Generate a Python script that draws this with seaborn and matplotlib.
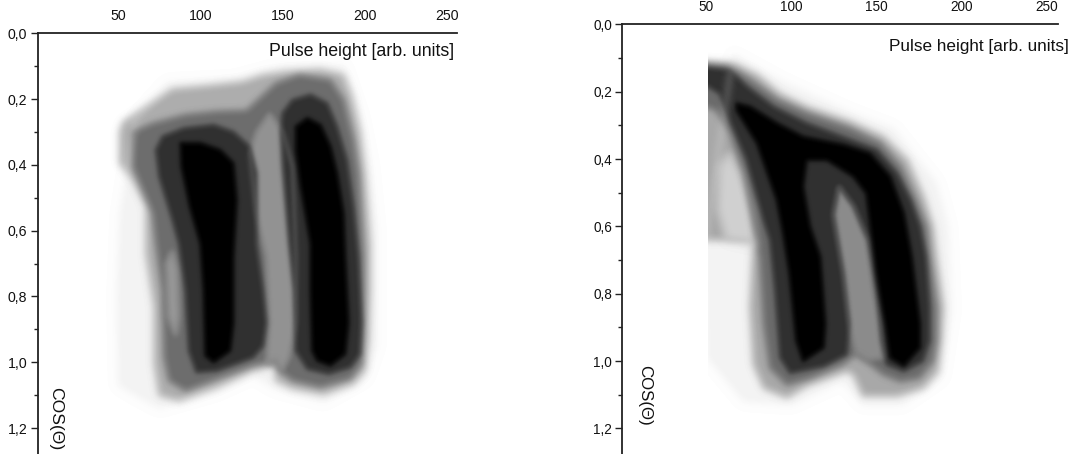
import numpy as np
import matplotlib
matplotlib.use("Agg")
import matplotlib.pyplot as plt
import seaborn as sns
from matplotlib.ticker import FixedLocator

sns.set_theme(style="ticks")
plt.rcParams['font.family'] = ['Liberation Sans', 'DejaVu Sans']

x_ticks = [50, 100, 150, 200, 250]
x_minor = [25, 75, 125, 175, 225]
y_ticks = [0.0, 0.2, 0.4, 0.6, 0.8, 1.0, 1.2]
y_minor = [0.1, 0.3, 0.5, 0.7, 0.9, 1.1]
y_labels = ["0,0", "0,2", "0,4", "0,6", "0,8", "1,0", "1,2"]
x_title = "Pulse height [arb. units]"
y_title = "COS(\u0398)"

# LEFT PANEL: iso-density outlines (pulse height, cos theta)
A_halo_x = [51, 49, 50, 60, 75, 110, 132, 145, 175, 200, 207, 207, 203, 197, 187, 150, 120, 80, 60]
A_halo_y = [0.55, 0.80, 1.07, 1.10, 1.14, 1.09, 1.04, 1.08, 1.12, 1.05, 0.95, 0.60, 0.40, 0.25, 0.10, 0.10, 0.14, 0.15, 0.26]

A1_x = [51, 53, 65, 83, 104, 126, 138, 152, 173, 187, 192, 197, 200, 203, 203, 202, 200, 193, 175, 156, 146, 145, 132, 110, 87, 75, 72, 72, 67, 67, 59, 51]
A1_y = [.30, .27, .23, .17, .16, .147, .127, .117, .11, .127, .19, .30, .43, .64, .78, .93, 1.025, 1.066, 1.097, 1.08, 1.056, 1.01, 1.025, 1.076, 1.117, 1.10, 1.005, .833, .67, .527, .446, .395]

A2_x = [59, 71, 91, 110, 128, 146, 160, 179, 187, 193, 196, 199, 199, 198, 191, 173, 156, 148, 146, 132, 110, 91, 81, 78, 77, 73, 71, 59]
A2_y = [.30, .274, .248, .238, .235, .152, .127, .142, .203, .324, .425, .68, .88, 1.005, 1.05, 1.075, 1.055, 1.025, .995, 1.01, 1.05, 1.086, 1.056, .985, .783, .64, .547, .405]

Agap_x = [134, 142, 150, 156, 158, 158, 154, 150, 145, 140, 142, 140, 134, 130]
Agap_y = [.30, .243, .30, .405, .68, .88, .985, 1.025, 1.01, 1.005, .88, .68, .547, .365]

Aflank_x = [79, 83, 86, 87, 85, 80]
Aflank_y = [.70, .66, .72, .86, .92, .86]

A3a_x = [73, 77, 90, 108, 120, 130, 134, 134, 134, 138, 140, 138, 132, 110, 97.6, 93, 91, 87, 83, 75]
A3a_y = [.355, .314, .289, .279, .30, .345, .425, .547, .64, .783, .88, .95, .985, 1.025, 1.03, .965, .783, .64, .567, .436]
A3b_x = [150, 156, 167, 177, 183, 189, 193, 196, 198, 197, 191, 178, 165, 158, 157, 154, 150, 149]
A3b_y = [.243, .203, .187, .213, .284, .385, .527, .68, .88, .975, 1.015, 1.035, 1.02, .965, .783, .64, .405, .30]

A4a_x = [88, 100, 112, 120, 122, 120, 120, 118, 108, 103, 102, 100, 93.6, 88.5]
A4a_y = [.334, .334, .355, .395, .507, .68, .88, .965, 1.0, .98, .783, .64, .527, .405]
A4b_x = [158, 165, 173, 179, 183, 187, 188, 190, 188, 179, 171, 168, 167, 167, 161, 158]
A4b_y = [.284, .258, .279, .344, .425, .547, .68, .88, .975, 1.01, .995, .965, .783, .64, .466, .355]

# RIGHT PANEL
B_halo_x = [50.7, 49.5, 50.7, 72, 100, 130, 142, 165, 188, 194, 192, 185, 160, 134, 95, 66]
B_halo_y = [0.60, 0.69, 0.99, 1.12, 1.13, 1.06, 1.13, 1.13, 1.05, 0.85, 0.60, 0.47, 0.31, 0.26, 0.17, 0.09]

B1_x = [45, 66, 80, 93, 109, 134.5, 154, 168, 177.5, 183, 185, 189, 188, 186, 177.5, 162, 142, 136.5, 132.5, 109, 97.5, 84, 78, 76, 78, 60, 45]
B1_y = [.11, .116, .15, .205, .245, .289, .334, .403, .512, .60, .69, .84, .94, 1.03, 1.08, 1.103, 1.103, 1.04, 1.03, 1.073, 1.108, 1.08, 1.01, .84, .64, .64, .64]

Blobe_x = [58, 64, 70, 78, 80, 62, 57]
Blobe_y = [.42, .38, .44, .55, .66, .64, .55]

B2_x = [45, 64, 76, 92, 109, 134.5, 152, 164, 173, 179, 181, 185, 185, 183, 175, 164, 154, 144, 138, 130, 111, 97.5, 87.6, 84, 81.8, 78, 72, 64, 56, 45]
B2_y = [.116, .126, .165, .225, .264, .309, .353, .423, .522, .60, .69, .84, .94, 1.0, 1.05, 1.06, 1.04, 1.0, .98, 1.01, 1.05, 1.07, 1.02, .89, .69, .60, .44, .32, .255, .235]

Bgap_x = [128, 136.5, 141.5, 145, 148, 152.6, 154, 144, 138, 134, 130.6, 126.7, 124.8]
Bgap_y = [.482, .54, .60, .642, .79, .89, .99, 1.0, .98, .89, .74, .623, .565]

B3_x = [45, 64, 74, 89.6, 109, 130, 150, 162, 170, 175.5, 179, 181, 181, 177, 166, 156, 153, 150, 145, 141.5, 136.5, 128, 124.8, 126.7, 130.6, 134, 132.5, 119, 99.4, 93.6, 90.6, 87.6, 83.7, 74, 64, 58, 45]
B3_y = [.126, .136, .185, .245, .294, .334, .373, .443, .522, .60, .69, .84, .94, 1.0, 1.03, 1.01, .94, .79, .64, .60, .54, .482, .565, .623, .74, .89, .98, 1.015, 1.035, .99, .79, .64, .58, .403, .284, .205, .165]

B4_x = [68, 76, 91.6, 107, 130.6, 146, 158, 166, 170.6, 175.5, 175.5, 166, 158, 155, 150, 144, 136.5, 121, 109, 107, 111, 117, 120, 119, 107, 103, 99, 95.4, 91.6, 80, 68]
B4_y = [.235, .245, .294, .334, .358, .383, .452, .561, .69, .89, .96, 1.015, .99, .89, .74, .502, .452, .403, .403, .482, .60, .69, .89, .96, 1.0, .94, .74, .623, .522, .353, .255]


class SoftEdge:
    """agg filter: gaussian blur of the alpha channel of a one-colour artist."""
    def __init__(self, grey, sigma):
        self.grey, self.sigma = grey, sigma

    def __call__(self, im, dpi):
        pad = int(3 * self.sigma) + 1
        out = np.zeros((im.shape[0] + 2 * pad, im.shape[1] + 2 * pad, 4))
        a = np.pad(im[:, :, 3], pad)
        t = np.arange(-pad, pad + 1)
        k = np.exp(-0.5 * (t / self.sigma) ** 2)
        k /= k.sum()
        a = np.apply_along_axis(lambda v: np.convolve(v, k, "same"), 0, a)
        a = np.apply_along_axis(lambda v: np.convolve(v, k, "same"), 1, a)
        out[:, :, :3] = self.grey
        out[:, :, 3] = a
        return out, -pad, -pad


def band(ax, xs, ys, grey, sigma):
    px, py = list(xs) + [xs[0]], list(ys) + [ys[0]]
    c = str(grey)
    flt = SoftEdge(grey, sigma)
    for f in ax.fill(px, py, color=c, lw=0):
        f.set_agg_filter(flt)
    n0 = len(ax.lines)
    sns.lineplot(x=px, y=py, sort=False, estimator=None, errorbar=None, color=c,
                 lw=1, ax=ax, legend=False)
    for ln in ax.lines[n0:]:
        ln.set_agg_filter(flt)


def frame(ax, xmax, ymax, tick_size):
    ax.set_xlim(1, xmax)
    ax.set_ylim(ymax, 0)
    ax.xaxis.tick_top()
    ax.xaxis.set_major_locator(FixedLocator(x_ticks))
    ax.xaxis.set_minor_locator(FixedLocator(x_minor))
    ax.yaxis.set_major_locator(FixedLocator(y_ticks))
    ax.yaxis.set_minor_locator(FixedLocator(y_minor))
    ax.set_yticklabels(y_labels)
    ax.tick_params(which="major", length=5, width=1, color="#222222", labelsize=tick_size,
                   pad=2.5, labelcolor="#111111")
    ax.tick_params(which="minor", length=3, width=1, color="#222222")
    ax.set_xlabel("")
    ax.set_ylabel("")
    sns.despine(ax=ax, top=False, left=False, right=True, bottom=True)
    for s in ("top", "left"):
        ax.spines[s].set_linewidth(1.3)
        ax.spines[s].set_color("#222222")
        ax.spines[s].set_zorder(6)


W, H = 1075, 454
fig = plt.figure(figsize=(W / 100, H / 100), dpi=100, facecolor="white")
axL = fig.add_axes([37.7 / W, 0, (457 - 37.7) / W, 1 - 33.3 / H])
axR = fig.add_axes([622.3 / W, 0, (1057.7 - 622.3) / W, 1 - 24.3 / H])

# left
band(axL, A_halo_x, A_halo_y, 0.955, 4)
band(axL, A1_x, A1_y, 0.68, 3.5)
band(axL, A2_x, A2_y, 0.43, 3.0)
band(axL, Agap_x, Agap_y, 0.58, 2.5)
band(axL, Aflank_x, Aflank_y, 0.60, 3)
band(axL, A3a_x, A3a_y, 0.19, 2.2)
band(axL, A3b_x, A3b_y, 0.19, 2.2)
band(axL, A4a_x, A4a_y, 0.0, 2.0)
band(axL, A4b_x, A4b_y, 0.0, 2.0)
frame(axL, 256, 1.279, 10.2)

# right
band(axR, B_halo_x, B_halo_y, 0.955, 4)
band(axR, B1_x, B1_y, 0.66, 3.5)
band(axR, Blobe_x, Blobe_y, 0.82, 4)
band(axR, B2_x, B2_y, 0.42, 3.0)
band(axR, Bgap_x, Bgap_y, 0.55, 2.5)
band(axR, B3_x, B3_y, 0.19, 2.2)
band(axR, B4_x, B4_y, 0.0, 2.0)
axR.axvspan(1.5, 51, color="white", lw=0, zorder=5)
frame(axR, 256.2, 1.276, 9.8)

fig.text(454 / W, 1 - 52 / H, x_title, ha="right", va="center", fontsize=12.8, color="#111111")
fig.text(1069 / W, 1 - 46 / H, x_title, ha="right", va="center", fontsize=12.3, color="#111111")
fig.text(56 / W, 1 - 419 / H, y_title, rotation=270, ha="center", va="center", fontsize=12.6, color="#111111")
fig.text(645 / W, 1 - 395 / H, y_title, rotation=270, ha="center", va="center", fontsize=12.2, color="#111111")

fig.savefig("out.png", dpi=100)
